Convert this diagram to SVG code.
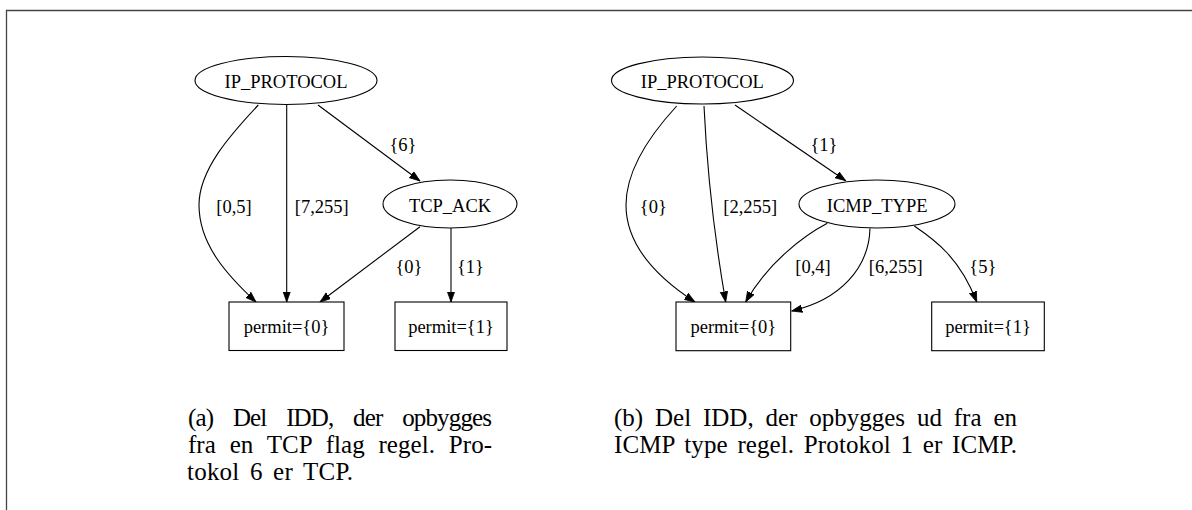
<svg xmlns="http://www.w3.org/2000/svg" width="1192" height="510" viewBox="0 0 1192 510">
<style>
.n{fill:#fff;stroke:#000;stroke-width:1.1}
.t{font-family:"Liberation Serif","Times New Roman",serif;font-size:18.5px;fill:#000;text-anchor:middle}
.e{fill:none;stroke:#000;stroke-width:1.1;marker-end:url(#ah)}
.c{font-family:"Liberation Serif","Times New Roman",serif;font-size:25px;fill:#000}
</style>
<defs>
<marker id="ah" markerUnits="userSpaceOnUse" markerWidth="12" markerHeight="9" refX="10.5" refY="4" orient="auto">
<path d="M0,0.3 L10.5,4 L0,7.7 z" fill="#000" stroke="#000" stroke-width="0.8"/>
</marker>
</defs>
<rect width="1192" height="510" fill="#fff"/>
<path d="M6.5,510 V10.5 H1192" fill="none" stroke="#444" stroke-width="1.3"/>

<g id="connectors">
<path class="e" d="M258.3,105 C230,135 199,170 199,205 C199,245 228,276 256,302"/>
<path class="e" d="M286.7,105 V302"/>
<path class="e" d="M318,105 L420,181"/>
<path class="e" d="M420,226.7 L320,302"/>
<path class="e" d="M451,228 V302"/>

<path class="e" d="M676.7,106 C650,135 626,170 626,205 C626,245 655,276 695,302"/>
<path class="e" d="M704,106 Q708.6,204 725.7,302"/>
<path class="e" d="M735,105 L845.7,180.7"/>
<path class="e" d="M827.3,223.3 C805,235 768,262 745.7,302"/>
<path class="e" d="M870,228.3 C869,268 840,300 791.7,311"/>
<path class="e" d="M914.3,226 C935,240 960,258 976.7,302"/>
</g>

<g id="edge-labels">
<text class="t" x="403" y="150.5">{6}</text>
<text class="t" x="234" y="212.5">[0,5]</text>
<text class="t" x="321.7" y="212.5">[7,255]</text>
<text class="t" x="409" y="273">{0}</text>
<text class="t" x="470.5" y="273">{1}</text>

<text class="t" x="824" y="150.5">{1}</text>
<text class="t" x="653.3" y="212.5">{0}</text>
<text class="t" x="750.3" y="212.5">[2,255]</text>
<text class="t" x="813" y="273">[0,4]</text>
<text class="t" x="895.8" y="273">[6,255]</text>
<text class="t" x="982.8" y="273">{5}</text>
</g>

<g id="a-ip-protocol">
<ellipse class="n" cx="286" cy="80.5" rx="91" ry="24"/>
<text class="t" x="286" y="88">IP_PROTOCOL</text>
</g>
<g id="a-tcp-ack">
<ellipse class="n" cx="450" cy="204" rx="67" ry="24"/>
<text class="t" x="450" y="211.5">TCP_ACK</text>
</g>
<g id="a-permit0">
<rect class="n" x="229" y="302" width="115" height="48.5"/>
<text class="t" x="286.5" y="332.5">permit={0}</text>
</g>
<g id="a-permit1">
<rect class="n" x="395" y="302" width="112" height="48.5"/>
<text class="t" x="451" y="332.5">permit={1}</text>
</g>

<g id="b-ip-protocol">
<ellipse class="n" cx="702.5" cy="80.5" rx="91" ry="23.5"/>
<text class="t" x="702.3" y="88">IP_PROTOCOL</text>
</g>
<g id="b-icmp-type">
<ellipse class="n" cx="877" cy="204" rx="78" ry="24"/>
<text class="t" x="877.2" y="211.5">ICMP_TYPE</text>
</g>
<g id="b-permit0">
<rect class="n" x="676" y="302" width="114.7" height="48.7"/>
<text class="t" x="733.3" y="332.5">permit={0}</text>
</g>
<g id="b-permit1">
<rect class="n" x="931.7" y="302" width="112.6" height="48.7"/>
<text class="t" x="988" y="332.5">permit={1}</text>
</g>

<g id="caption-a">
<text class="c" x="188" y="426" word-spacing="14.3" textLength="304" lengthAdjust="spacing">(a) Del IDD, der opbygges</text>
<text class="c" x="188" y="453" word-spacing="7.5" textLength="304" lengthAdjust="spacing">fra en TCP flag regel. Pro-</text>
<text class="c" x="187" y="480" word-spacing="4" textLength="166" lengthAdjust="spacing">tokol 6 er TCP.</text>
</g>
<g id="caption-b">
<text class="c" x="614" y="426" word-spacing="5.6" textLength="403" lengthAdjust="spacing">(b) Del IDD, der opbygges ud fra en</text>
<text class="c" x="614" y="453" word-spacing="3.3" textLength="403" lengthAdjust="spacing">ICMP type regel. Protokol 1 er ICMP.</text>
</g>
</svg>
